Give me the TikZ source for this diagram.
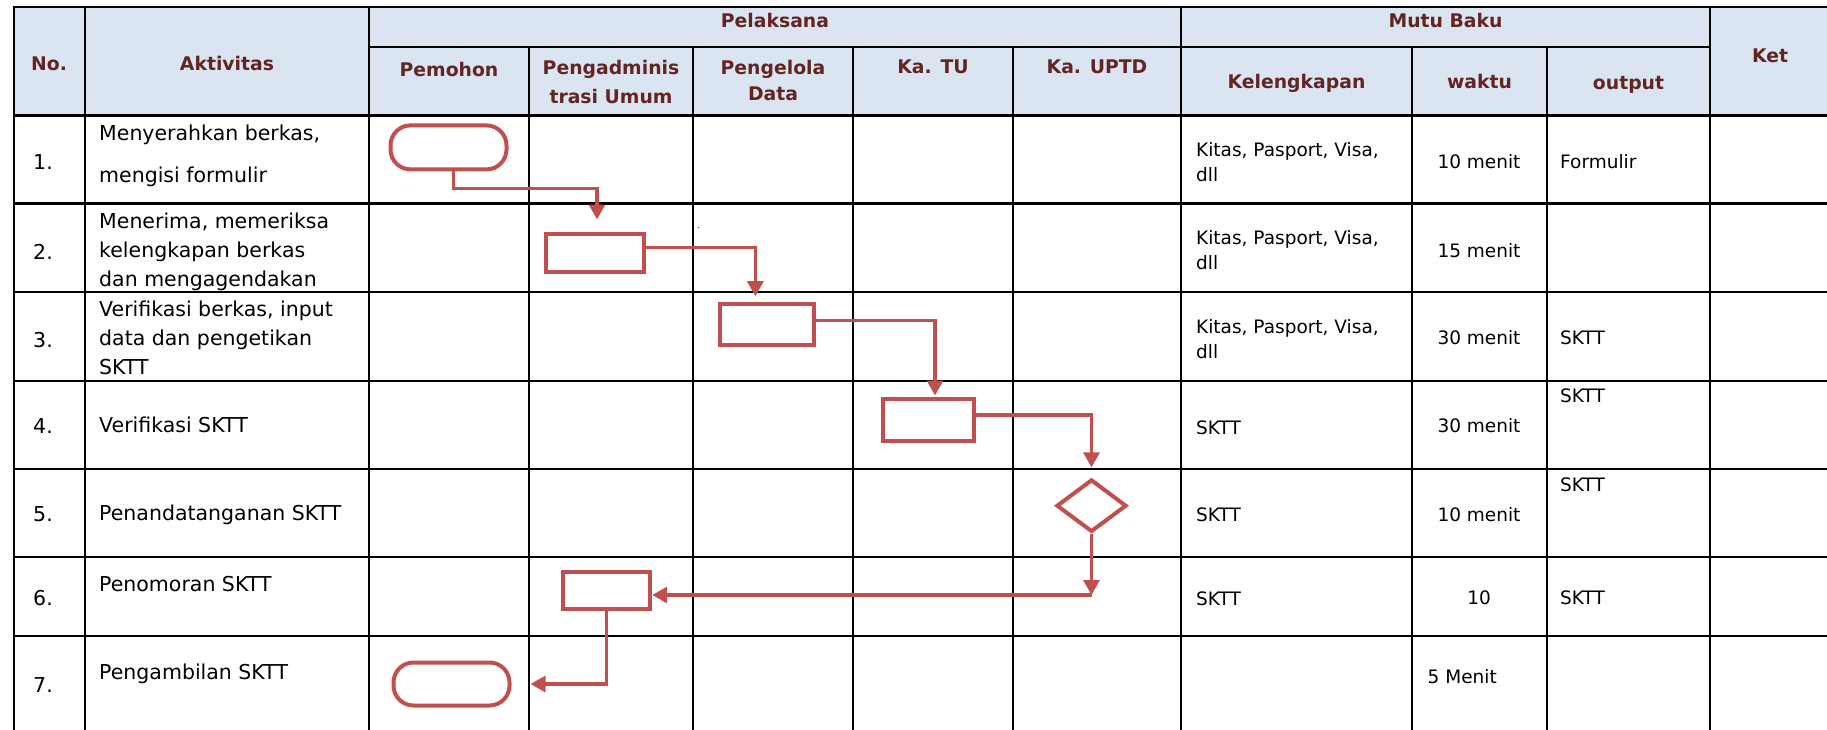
\documentclass[tikz,border=0pt]{standalone}
\usepackage{fontspec}
\setmainfont{DejaVu Sans}
\usetikzlibrary{arrows.meta,shapes.geometric}

\definecolor{hdrblue}{RGB}{219,229,241}
\definecolor{hdrtext}{RGB}{99,37,35}
\definecolor{flowred}{RGB}{192,80,77}

\newcommand{\hdrfont}{\fontsize{18.8}{26}\selectfont\bfseries}
\newcommand{\actfont}{\fontsize{20.5}{29}\selectfont}
\newcommand{\mutufont}{\fontsize{18.5}{25}\selectfont}

\tikzset{
  hdr/.style={font=\hdrfont, text=hdrtext, inner sep=0pt, align=center},
  act/.style={font=\actfont, inner sep=0pt, align=left},
  mutu/.style={font=\mutufont, inner sep=0pt, align=left},
  grid/.style={line width=2.6pt, line cap=rect},
  terminal/.style={draw=flowred, line width=4pt, rounded corners=20pt, minimum width=116pt, minimum height=44pt, inner sep=0pt},
  process/.style={draw=flowred, line width=4pt, inner sep=0pt},
  decision/.style={draw=flowred, line width=4pt, diamond, inner sep=0pt, minimum width=70pt, minimum height=52.5pt},
  flow/.style={draw=flowred, line width=3.2pt, -{Triangle[length=15pt,width=16pt]}},
}

\begin{document}
\begin{tikzpicture}[x=1pt,y=-1pt]
\useasboundingbox (0,0) rectangle (1827,730);

% tabel
\fill[hdrblue] (14,7) rectangle (1830,115.5);
\draw[grid] (14,7) -- (1830,7);
\draw[grid] (369,47) -- (1710,47);
\foreach \y in {115.5,203.5,292,381,469,557,636}
  \draw[grid] (14,\y) -- (1830,\y);
\foreach \x in {14,85,369,1181,1710}
  \draw[grid] (\x,7) -- (\x,731);
\foreach \x in {529,693,853,1013,1412,1547}
  \draw[grid] (\x,47) -- (\x,731);

% judul kolom
\node[hdr, anchor=base] (hNo) at (49,71) {No.};
\node[hdr, anchor=base] (hAkt) at (227,70.5) {Aktivitas};
\node[hdr, anchor=base] (hPel) at (775,28) {Pelaksana};
\node[hdr, anchor=base] (hMutu) at (1445.5,28) {Mutu Baku};
\node[hdr, anchor=base] (hPem) at (449,76.5) {Pemohon};
\node[hdr, anchor=north, font=\fontsize{18.8}{29}\selectfont\bfseries] (hAdm) at (611,59.7) {Pengadminis\\trasi Umum};
\node[hdr, anchor=north] (hData) at (773,59.7) {Pengelola\\Data};
\node[hdr, anchor=base] (hTU) at (933,74) {Ka. TU};
\node[hdr, anchor=base] (hUPTD) at (1097,74) {Ka. UPTD};
\node[hdr, anchor=base] (hKel) at (1296.5,89) {Kelengkapan};
\node[hdr, anchor=base] (hWkt) at (1479.5,89) {waktu};
\node[hdr, anchor=base] (hOut) at (1628.5,89.5) {output};
\node[hdr, anchor=base] (hKet) at (1770,62.5) {Ket};

% nomor
\node[act, anchor=base] (no1) at (43,170) {1.};
\node[act, anchor=base] (no2) at (43,259) {2.};
\node[act, anchor=base] (no3) at (43,347) {3.};
\node[act, anchor=base] (no4) at (43,433) {4.};
\node[act, anchor=base] (no5) at (43,521) {5.};
\node[act, anchor=base] (no6) at (43,605) {6.};
\node[act, anchor=base] (no7) at (43,692) {7.};

% aktivitas
\node[act, anchor=north west] (act1) at (99,125) {Menyerahkan berkas,\\[13pt]mengisi formulir};
\node[act, anchor=north west] (act2) at (99,212.5) {Menerima, memeriksa\\kelengkapan berkas\\dan mengagendakan};
\node[act, anchor=north west] (act3) at (99,300.5) {Verifikasi berkas, input\\data dan pengetikan\\SKTT};
\node[act, anchor=base west] (act4) at (99,432.5) {Verifikasi SKTT};
\node[act, anchor=base west] (act5) at (99,520) {Penandatanganan SKTT};
\node[act, anchor=base west] (act6) at (99,591.5) {Penomoran SKTT};
\node[act, anchor=base west] (act7) at (99,679) {Pengambilan SKTT};
\node[font=\fontsize{8}{8}\selectfont, inner sep=0pt] (dot) at (699,228) {.};

% mutu baku
\node[mutu, anchor=north west] (kel1) at (1196,142.5) {Kitas, Pasport, Visa,\\dll};
\node[mutu, anchor=north west] (kel2) at (1196,230.5) {Kitas, Pasport, Visa,\\dll};
\node[mutu, anchor=north west] (kel3) at (1196,319) {Kitas, Pasport, Visa,\\dll};
\node[mutu, anchor=base west] (kel4) at (1196,434) {SKTT};
\node[mutu, anchor=base west] (kel5) at (1196,521) {SKTT};
\node[mutu, anchor=base west] (kel6) at (1196,605) {SKTT};

\node[mutu, anchor=base] (wkt1) at (1479,168.5) {10 menit};
\node[mutu, anchor=base] (wkt2) at (1479,257) {15 menit};
\node[mutu, anchor=base] (wkt3) at (1479,344) {30 menit};
\node[mutu, anchor=base] (wkt4) at (1479,432) {30 menit};
\node[mutu, anchor=base] (wkt5) at (1479,521) {10 menit};
\node[mutu, anchor=base] (wkt6) at (1479,604) {10};
\node[mutu, anchor=base west] (wkt7) at (1427.5,683) {5 Menit};

\node[mutu, anchor=base west] (out1) at (1560,168) {Formulir};
\node[mutu, anchor=base west] (out3) at (1560,344) {SKTT};
\node[mutu, anchor=base west] (out4) at (1560,402) {SKTT};
\node[mutu, anchor=base west] (out5) at (1560,491) {SKTT};
\node[mutu, anchor=base west] (out6) at (1560,604) {SKTT};

% bagan alir
\node[terminal] (t1) at (448.5,147.4) {};
\node[process, minimum width=98pt, minimum height=38pt] (r2) at (595,252.5) {};
\node[process, minimum width=94pt, minimum height=41pt] (r3) at (767.3,324.7) {};
\node[process, minimum width=91pt, minimum height=42pt] (r4) at (928,419.5) {};
\node[decision] (d5) at (1091.5,505.7) {};
\node[process, minimum width=87pt, minimum height=37pt] (r6) at (606.7,590.9) {};
\node[terminal, minimum height=43pt] (t7) at (451.5,684) {};
\coordinate (j6) at (1091.5,595);

\draw[flow, shorten >=12pt] ([xshift=5pt]t1.south) -- ++(0,17) -| ([xshift=2pt]r2.north);
\draw[flow, shorten >=6pt] ([yshift=5pt]r2.east) -| ([xshift=-12pt]r3.north);
\draw[flow, shorten >=1pt] ([yshift=4pt]r3.east) -| ([xshift=7pt]r4.north);
\draw[flow, shorten >=10pt] ([yshift=4.5pt]r4.east) -| (d5.north);
\draw[flow] (d5.south) -- (j6);
\draw[flow] (j6) -- (j6 -| r6.east);
\draw[flow, shorten >=19pt] (r6.south) |- (t7.east);

\end{tikzpicture}
\end{document}
